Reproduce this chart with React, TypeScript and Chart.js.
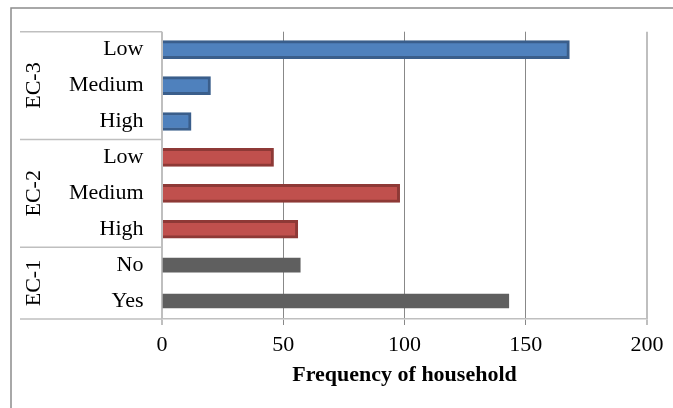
import { useEffect, useRef } from 'react';
import { Chart, registerables } from 'chart.js';

Chart.register(...registerables);

const categories = ['Low', 'Medium', 'High', 'Low', 'Medium', 'High', 'No', 'Yes'];
const groupNames = ['EC-3', 'EC-2', 'EC-1'];
const groupSizes = [3, 3, 2];
const ec3Values = [168, 20, 12, null, null, null, null, null];
const ec2Values = [null, null, null, 46, 98, 56, null, null];
const ec1Values = [null, null, null, null, null, null, 57, 143];
const xMin = 0;
const xMax = 200;
const xStep = 50;
const axisTitle = 'Frequency of household';

const FONT = '"Liberation Serif", "Times New Roman", serif';

const decorPlugin = {
  id: 'decor',
  beforeDraw(chart: any) {
    const ctx = chart.ctx;
    ctx.save();
    ctx.strokeStyle = '#8C8C8C';
    ctx.lineWidth = 1.5;
    ctx.strokeRect(11, 8, 800, 600);
    ctx.restore();
  },
  afterDraw(chart: any) {
    const ctx = chart.ctx;
    const y = chart.scales.y;
    const area = chart.chartArea;
    const half = (y.getPixelForValue(1) - y.getPixelForValue(0)) / 2;
    ctx.save();
    ctx.strokeStyle = '#BFBFBF';
    ctx.lineWidth = 1.5;
    let idx = 0;
    const bounds: number[] = [y.getPixelForValue(0) - half];
    groupSizes.forEach((n) => {
      idx += n;
      bounds.push(y.getPixelForValue(idx - 1) + half);
    });
    bounds.forEach((b) => {
      ctx.beginPath();
      ctx.moveTo(20, b);
      ctx.lineTo(area.left, b);
      ctx.stroke();
    });
    ctx.fillStyle = '#000';
    ctx.font = `22px ${FONT}`;
    ctx.textAlign = 'center';
    ctx.textBaseline = 'middle';
    groupNames.forEach((name, i) => {
      const cy = (bounds[i] + bounds[i + 1]) / 2;
      ctx.save();
      ctx.translate(34.5, cy);
      ctx.rotate(-Math.PI / 2);
      ctx.fillText(name, 0, 0);
      ctx.restore();
    });
    ctx.restore();
  },
};

export default function App() {
  const ref = useRef<HTMLCanvasElement | null>(null);
  useEffect(() => {
    if (!ref.current) return;
    const chart = new Chart(ref.current, {
      type: 'bar',
      data: {
        labels: categories,
        datasets: [
          {
            label: 'EC-3',
            data: ec3Values,
            backgroundColor: '#4F81BD',
            borderColor: '#3A5E8B',
            borderWidth: 3,
            borderSkipped: 'start',
            barThickness: 18,
            grouped: false,
          } as any,
          {
            label: 'EC-2',
            data: ec2Values,
            backgroundColor: '#C0504D',
            borderColor: '#8E3936',
            borderWidth: 3,
            borderSkipped: 'start',
            barThickness: 18,
            grouped: false,
          },
          {
            label: 'EC-1',
            data: ec1Values,
            backgroundColor: '#5F5F5F',
            borderWidth: 0,
            barThickness: 14,
            grouped: false,
          },
        ],
      },
      options: {
        indexAxis: 'y',
        animation: false,
        responsive: false,
        layout: { padding: { left: 0, top: 28, right: 26, bottom: 0 } },
        plugins: { legend: { display: false }, tooltip: { enabled: false } },
        scales: {
          x: {
            min: xMin,
            max: xMax,
            ticks: {
              stepSize: xStep,
              padding: 7,
              color: '#000',
              font: { family: FONT, size: 22 },
              maxRotation: 0,
            },
            grid: {
              color: (c: any) =>
                c.tick && (c.tick.value === xMin || c.tick.value === xMax) ? '#BFBFBF' : '#888888',
              lineWidth: (c: any) =>
                c.tick && (c.tick.value === xMin || c.tick.value === xMax) ? 2 : 1,
              tickLength: 6,
              drawTicks: true,
            },
            border: { display: true, color: '#BFBFBF', width: 1.5 },
            title: {
              display: true,
              text: axisTitle,
              color: '#000',
              font: { family: FONT, size: 22, weight: 'bold' },
              padding: { top: 0, bottom: 19 },
            },
            afterFit: (s: any) => {
              s.height = 89;
            },
          },
          y: {
            ticks: {
              padding: 18.5,
              color: '#000',
              font: { family: FONT, size: 22 },
            },
            grid: { display: false, drawTicks: false },
            border: { display: false },
            afterFit: (s: any) => {
              s.width = 162;
            },
          },
        },
      },
      plugins: [decorPlugin],
    } as any);
    return () => chart.destroy();
  }, []);
  return (
    <div style={{ position: 'fixed', left: 0, top: 0, width: 673, height: 408, background: '#fff' }}>
      <canvas ref={ref} width={673} height={408} style={{ display: 'block' }} />
    </div>
  );
}
